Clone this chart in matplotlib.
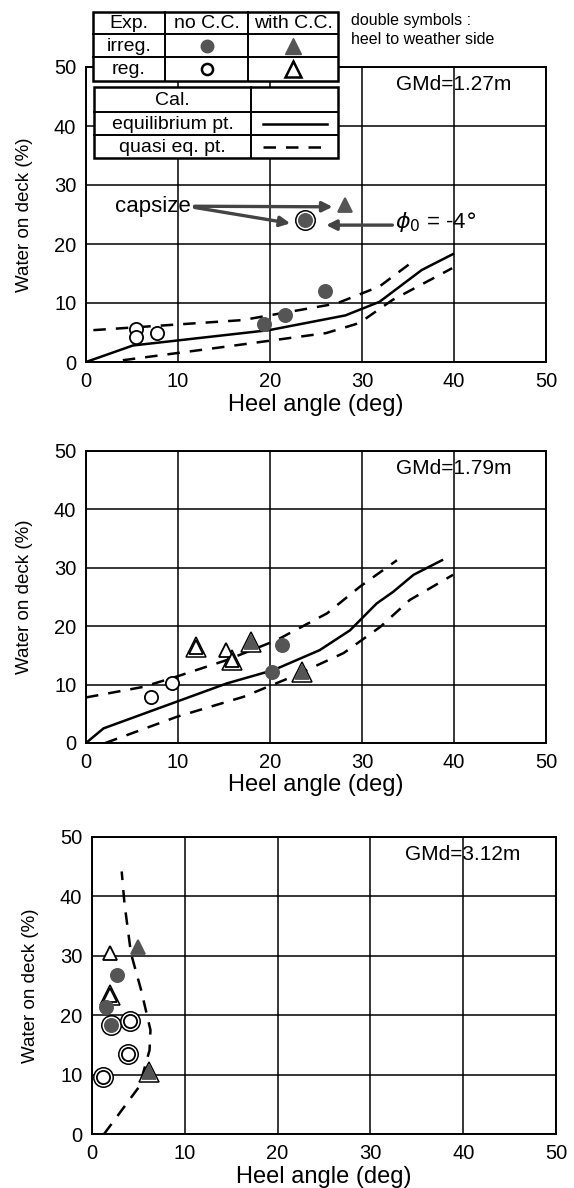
import numpy as np
import matplotlib.pyplot as plt
from matplotlib.patches import Rectangle
from matplotlib.lines import Line2D

plt.rcParams['font.family'] = ['Liberation Sans', 'DejaVu Sans']

# ---- data ----
# GMd = 1.27 m
p1_eq_x = [0, 5.1, 19.9, 28.2, 31.9, 36.5, 39.9]
p1_eq_y = [0, 2.8, 5.4, 7.9, 10.2, 15.6, 18.3]
p1_qu_x = [0.8, 17.0, 27.2, 31.9, 35.5]
p1_qu_y = [5.4, 7.1, 9.9, 12.8, 17.0]
p1_ql_x = [4.0, 15.2, 26.1, 29.7, 33.3, 39.8]
p1_ql_y = [0.3, 2.6, 4.9, 6.6, 10.5, 15.9]
p1_irr_circ_x = [19.3, 21.6, 26.0]
p1_irr_circ_y = [6.4, 8.0, 12.0]
p1_irr_circ2_x = [23.8]
p1_irr_circ2_y = [24.1]
p1_reg_circ_x = [5.4, 5.4, 7.7]
p1_reg_circ_y = [5.6, 4.3, 4.9]
p1_irr_tri_x = [28.1]
p1_irr_tri_y = [26.6]

# GMd = 1.79 m
p2_eq_x = [0, 1.9, 9.9, 15.3, 20.4, 25.4, 28.7, 31.6, 33.4, 35.6, 38.7]
p2_eq_y = [0, 2.5, 7.1, 10.2, 12.5, 15.9, 19.3, 23.9, 25.9, 28.8, 31.3]
p2_qu_x = [0, 6.2, 9.9, 15.3, 20.7, 26.2, 29.8, 33.8]
p2_qu_y = [7.8, 9.6, 11.4, 14.2, 17.6, 22.2, 26.8, 31.3]
p2_ql_x = [2.1, 9.9, 17.1, 22.5, 28.0, 32.0, 35.2, 39.9]
p2_ql_y = [0, 4.5, 7.9, 11.4, 15.4, 19.9, 24.5, 28.8]
p2_reg_circ_x = [7.1, 9.3]
p2_reg_circ_y = [7.8, 10.3]
p2_reg_tri_x = [15.2]
p2_reg_tri_y = [15.9]
p2_reg_tri2_x = [12.0, 15.9]
p2_reg_tri2_y = [16.5, 14.2]
p2_irr_tri2_x = [17.9, 23.5]
p2_irr_tri2_y = [17.3, 12.2]
p2_irr_circ_x = [20.2, 21.3]
p2_irr_circ_y = [12.2, 16.7]

# GMd = 3.12 m
p3_q_x = [1.3, 5.1, 6.2, 6.3, 5.3, 4.2, 3.5, 3.2]
p3_q_y = [0, 8.0, 14.1, 17.5, 24.2, 30.4, 38.8, 44.2]
p3_reg_tri_x = [1.9]
p3_reg_tri_y = [30.5]
p3_reg_tri2_x = [1.9]
p3_reg_tri2_y = [23.4]
p3_irr_tri_x = [5.0]
p3_irr_tri_y = [31.4]
p3_irr_tri2_x = [6.1]
p3_irr_tri2_y = [10.5]
p3_irr_circ_x = [2.7, 1.5]
p3_irr_circ_y = [26.8, 21.3]
p3_irr_circ2_x = [2.0]
p3_irr_circ2_y = [18.3]
p3_reg_circ2_x = [4.1, 3.9, 1.2]
p3_reg_circ2_y = [19.1, 13.4, 9.6]

gm_labels = ['GMd=1.27m', 'GMd=1.79m', 'GMd=3.12m']

GRAY = '#555555'
DASH = (0, (5, 4))
LW = 1.8


def marks(ax, x, y, kind, double=False):
    # kind: 'fc' filled circle, 'oc' open circle, 'ft' filled tri, 'ot' open tri
    if kind in ('fc', 'oc'):
        m, ms = 'o', 9.5
    else:
        m, ms = '^', 10.5
    fc = GRAY if kind[0] == 'f' else 'white'
    if double:
        ax.plot(x, y, ls='none', marker=m, ms=ms + 4.5, mfc='white', mec='black', mew=1.1, zorder=4)
    ax.plot(x, y, ls='none', marker=m, ms=ms, mfc=fc,
            mec=GRAY if kind[0] == 'f' else 'black', mew=1.3, zorder=5)


fig = plt.figure(figsize=(5.74, 11.88), dpi=100)

W, H = 574.0, 1188.0
boxes = [(86, 546, 362, 67), (86, 546, 743, 451), (92, 556, 1134, 837)]
axes = []
for (l, r, b, t) in boxes:
    ax = fig.add_axes([l / W, 1 - b / H, (r - l) / W, (b - t) / H])
    ax.set_xlim(0, 50)
    ax.set_ylim(0, 50)
    ax.set_xticks(np.arange(0, 51, 10))
    ax.set_yticks(np.arange(0, 51, 10))
    ax.grid(True, color='black', lw=1.1)
    ax.set_axisbelow(True)
    ax.tick_params(length=0, labelsize=14.5, pad=7)
    for s in ax.spines.values():
        s.set_linewidth(1.4)
    ax.set_xlabel('Heel angle (deg)', fontsize=17, labelpad=2)
    ax.set_ylabel('Water on deck (%)', fontsize=13.5, labelpad=15)
    axes.append(ax)

ax1, ax2, ax3 = axes

# panel 1
ax1.plot(p1_eq_x, p1_eq_y, color='black', lw=LW)
ax1.plot(p1_qu_x, p1_qu_y, color='black', lw=LW, ls=DASH)
ax1.plot(p1_ql_x, p1_ql_y, color='black', lw=LW, ls=DASH)
marks(ax1, p1_irr_circ_x, p1_irr_circ_y, 'fc')
marks(ax1, p1_irr_circ2_x, p1_irr_circ2_y, 'fc', double=True)
marks(ax1, p1_reg_circ_x, p1_reg_circ_y, 'oc')
marks(ax1, p1_irr_tri_x, p1_irr_tri_y, 'ft')
arr = dict(arrowstyle='-|>', color='#444444', lw=2.4, mutation_scale=15, shrinkA=0, shrinkB=0)
ax1.text(3.2, 26.3, 'capsize', fontsize=16, va='center', ha='left')
ax1.annotate('', xy=(p1_irr_tri_x[0] - 1.3, p1_irr_tri_y[0] - 0.3), xytext=(11.8, 26.4), arrowprops=arr)
ax1.annotate('', xy=(p1_irr_circ2_x[0] - 1.6, p1_irr_circ2_y[0] - 0.6), xytext=(11.8, 26.2), arrowprops=arr)
ax1.annotate('', xy=(p1_irr_circ2_x[0] + 2.3, 23.2), xytext=(33.3, 23.2), arrowprops=arr)
ax1.text(33.6, 23.8, r'$\phi_0$ = -4$\degree$', fontsize=16, va='center', ha='left')

# panel 2
ax2.plot(p2_eq_x, p2_eq_y, color='black', lw=LW)
ax2.plot(p2_qu_x, p2_qu_y, color='black', lw=LW, ls=DASH)
ax2.plot(p2_ql_x, p2_ql_y, color='black', lw=LW, ls=DASH)
marks(ax2, p2_reg_circ_x, p2_reg_circ_y, 'oc')
marks(ax2, p2_reg_tri_x, p2_reg_tri_y, 'ot')
marks(ax2, p2_reg_tri2_x, p2_reg_tri2_y, 'ot', double=True)
marks(ax2, p2_irr_tri2_x, p2_irr_tri2_y, 'ft', double=True)
marks(ax2, p2_irr_circ_x, p2_irr_circ_y, 'fc')

# panel 3
ax3.plot(p3_q_x, p3_q_y, color='black', lw=LW, ls=DASH)
marks(ax3, p3_reg_tri_x, p3_reg_tri_y, 'ot')
marks(ax3, p3_reg_tri2_x, p3_reg_tri2_y, 'ot', double=True)
marks(ax3, p3_irr_tri_x, p3_irr_tri_y, 'ft')
marks(ax3, p3_irr_tri2_x, p3_irr_tri2_y, 'ft', double=True)
marks(ax3, p3_irr_circ_x, p3_irr_circ_y, 'fc')
marks(ax3, p3_irr_circ2_x, p3_irr_circ2_y, 'fc', double=True)
marks(ax3, p3_reg_circ2_x, p3_reg_circ2_y, 'oc', double=True)

for ax, lab in zip(axes, gm_labels):
    ax.text(33.7, 47.0, lab, fontsize=15, va='center', ha='left')

# ---- legend tables drawn on an overlay in pixel units ----
ov = fig.add_axes([0, 0, 1, 1], facecolor='none')
ov.set_xlim(0, W)
ov.set_ylim(H, 0)
ov.axis('off')


def table(x0, x1, ys, cols):
    ov.add_patch(Rectangle((x0, ys[0]), x1 - x0, ys[-1] - ys[0], facecolor='white',
                           edgecolor='black', lw=1.8, zorder=2))
    for y in ys[1:-1]:
        ov.add_line(Line2D([x0, x1], [y, y], color='black', lw=1.4, zorder=3))
    for c in cols:
        ov.add_line(Line2D([c, c], [ys[0], ys[-1]], color='black', lw=1.4, zorder=3))


TFS = 14
t1_cols = [93, 165, 248, 338]
t1_rows = [12, 34, 57, 81]
table(t1_cols[0], t1_cols[-1], t1_rows, t1_cols[1:-1])
cx = [(t1_cols[i] + t1_cols[i + 1]) / 2 for i in range(3)]
cy = [(t1_rows[i] + t1_rows[i + 1]) / 2 for i in range(3)]
for txt, x in zip(['Exp.', 'no C.C.', 'with C.C.'], cx):
    ov.text(x, cy[0] + 1, txt, fontsize=TFS, ha='center', va='center', zorder=4)
ov.text(cx[0], cy[1] + 1, 'irreg.', fontsize=TFS, ha='center', va='center', zorder=4)
ov.text(cx[0], cy[2] + 1, 'reg.', fontsize=TFS, ha='center', va='center', zorder=4)
ov.plot([cx[1]], [cy[1]], 'o', ms=9, mfc=GRAY, mec=GRAY, zorder=4)
ov.plot([cx[2]], [cy[1]], '^', ms=12, mfc=GRAY, mec=GRAY, zorder=4)
ov.plot([cx[1]], [cy[2]], 'o', ms=8, mfc='white', mec='black', mew=1.8, zorder=4)
ov.plot([cx[2]], [cy[2]], '^', ms=12, mfc='white', mec='black', mew=1.8, zorder=4)

t2_cols = [94, 251, 338]
t2_rows = [87, 112, 135, 158]
table(t2_cols[0], t2_cols[-1], t2_rows, t2_cols[1:-1])
c2 = [(t2_cols[i] + t2_cols[i + 1]) / 2 for i in range(2)]
r2 = [(t2_rows[i] + t2_rows[i + 1]) / 2 for i in range(3)]
for txt, y in zip(['Cal.', 'equilibrium pt.', 'quasi eq. pt.'], r2):
    ov.text(c2[0], y + 1, txt, fontsize=TFS, ha='center', va='center', zorder=4)
ov.add_line(Line2D([c2[1] - 32, c2[1] + 32], [r2[1], r2[1]], color='black', lw=1.8, zorder=4))
ov.add_line(Line2D([c2[1] - 32, c2[1] + 32], [r2[2], r2[2]], color='black', lw=1.8, ls=DASH, zorder=4))

ov.text(351, 20, 'double symbols :', fontsize=11.5, ha='left', va='center')
ov.text(351, 40, 'heel to weather side', fontsize=11.5, ha='left', va='center')

fig.savefig('out.png', dpi=100)
